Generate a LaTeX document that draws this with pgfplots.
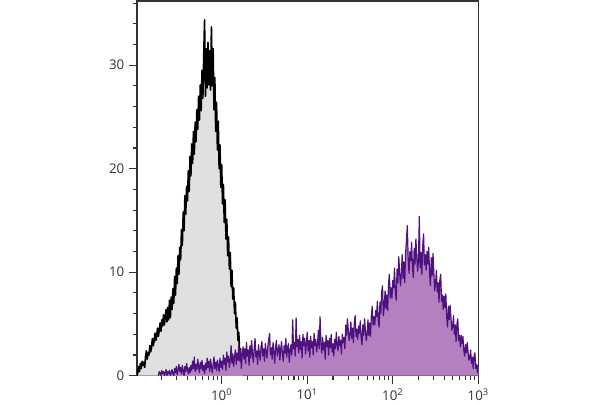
\documentclass[border=0pt]{standalone}
\usepackage{pgfplots}
\usepackage{pgfplotstable}
\pgfplotsset{compat=1.18}
\usepackage{fontspec}
\setmainfont{Open Sans}
\definecolor{ctrlfill}{RGB}{224,224,224}
\definecolor{purpline}{RGB}{78,18,128}
\definecolor{purpfill}{RGB}{181,127,192}
\definecolor{axgray}{RGB}{50,50,50}
\definecolor{labgray}{RGB}{50,50,50}

\pgfplotstableread{
u v
-0.99 0.0
-0.98 0.3
-0.97 0.9
-0.96 0.4
-0.95 1.2
-0.94 0.7
-0.93 1.4
-0.92 1.0
-0.91 1.3
-0.90 0.8
-0.89 1.9
-0.88 2.4
-0.87 1.6
-0.86 2.2
-0.85 2.0
-0.84 2.9
-0.83 2.3
-0.82 2.7
-0.81 3.6
-0.80 2.9
-0.79 3.3
-0.78 4.1
-0.77 3.4
-0.76 3.9
-0.75 4.6
-0.74 3.8
-0.73 4.4
-0.72 5.1
-0.71 4.3
-0.70 5.4
-0.69 4.8
-0.68 5.9
-0.67 4.9
-0.66 5.6
-0.65 6.4
-0.64 5.2
-0.63 6.6
-0.62 5.4
-0.61 7.3
-0.60 5.6
-0.59 7.6
-0.58 6.4
-0.57 8.4
-0.56 7.0
-0.55 9.6
-0.54 7.8
-0.53 10.4
-0.52 8.9
-0.51 11.6
-0.50 9.8
-0.49 12.4
-0.48 11.2
-0.47 14.1
-0.46 12.6
-0.45 15.8
-0.44 14.0
-0.43 17.4
-0.42 15.6
-0.41 18.3
-0.40 16.9
-0.39 19.8
-0.38 17.8
-0.37 21.2
-0.36 19.3
-0.35 22.4
-0.34 20.5
-0.33 23.6
-0.32 21.4
-0.31 24.5
-0.30 22.6
-0.29 25.7
-0.28 23.8
-0.27 27.0
-0.26 24.7
-0.25 28.1
-0.24 25.6
-0.23 29.5
-0.22 26.8
-0.21 31.0
-0.20 34.4
-0.19 27.0
-0.18 31.6
-0.17 27.8
-0.16 32.2
-0.15 28.1
-0.14 31.4
-0.13 27.6
-0.12 33.7
-0.11 28.0
-0.10 31.6
-0.09 25.7
-0.08 28.8
-0.07 23.6
-0.06 26.4
-0.05 21.8
-0.04 24.6
-0.03 20.0
-0.02 22.3
-0.01 18.2
0.00 20.4
0.01 16.6
0.02 18.5
0.03 14.8
0.04 17.0
0.05 13.2
0.06 15.1
0.07 11.6
0.08 13.4
0.09 10.3
0.10 11.9
0.11 8.6
0.12 10.2
0.13 7.4
0.14 8.5
0.15 6.0
0.16 7.1
0.17 4.6
0.18 5.6
0.19 3.4
0.20 4.2
0.21 2.2
0.22 2.6
0.23 1.0
0.24 1.2
0.25 0.2
0.26 0.0
}\ctrldata

\pgfplotstableread{
u v
-0.74 0.0
-0.73 0.4
-0.72 0.3
-0.71 0.0
-0.70 0.5
-0.69 0.2
-0.68 0.4
-0.67 0.0
-0.66 0.3
-0.65 0.6
-0.64 0.0
-0.63 0.4
-0.62 0.2
-0.61 0.5
-0.60 0.0
-0.59 0.3
-0.58 0.6
-0.57 0.2
-0.56 0.0
-0.55 0.7
-0.54 0.3
-0.53 0.9
-0.52 0.1
-0.51 0.6
-0.50 1.1
-0.49 0.4
-0.48 0.8
-0.47 0.2
-0.46 1.0
-0.45 0.5
-0.44 0.0
-0.43 0.9
-0.42 0.4
-0.41 1.2
-0.40 0.6
-0.39 0.2
-0.38 0.8
-0.37 0.3
-0.36 1.0
-0.35 0.5
-0.34 1.4
-0.33 0.7
-0.32 1.8
-0.31 0.4
-0.30 1.1
-0.29 0.6
-0.28 1.6
-0.27 0.9
-0.26 0.3
-0.25 1.3
-0.24 0.7
-0.23 1.5
-0.22 0.5
-0.21 1.0
-0.20 0.2
-0.19 1.2
-0.18 0.6
-0.17 1.7
-0.16 0.8
-0.15 1.4
-0.14 0.4
-0.13 1.6
-0.12 0.9
-0.11 0.3
-0.10 1.1
-0.09 1.8
-0.08 0.7
-0.07 1.3
-0.06 0.5
-0.05 1.5
-0.04 1.0
-0.03 0.4
-0.02 1.7
-0.01 0.8
0.00 1.4
0.01 0.6
0.02 2.0
0.03 1.1
0.04 1.7
0.05 0.5
0.06 2.3
0.07 1.3
0.08 1.9
0.09 0.8
0.10 1.5
0.11 2.9
0.12 1.2
0.13 2.1
0.14 0.9
0.15 1.8
0.16 2.5
0.17 1.1
0.18 2.2
0.19 1.5
0.20 3.0
0.21 1.4
0.22 2.4
0.23 0.7
0.24 2.0
0.25 2.8
0.26 1.6
0.27 2.6
0.28 1.2
0.29 3.2
0.30 1.9
0.31 2.5
0.32 1.0
0.33 2.9
0.34 1.7
0.35 3.4
0.36 2.1
0.37 1.3
0.38 2.7
0.39 3.6
0.40 1.8
0.41 2.4
0.42 1.1
0.43 3.0
0.44 2.2
0.45 1.5
0.46 2.8
0.47 3.3
0.48 1.9
0.49 2.6
0.50 1.4
0.51 3.1
0.52 2.3
0.53 1.7
0.54 2.9
0.55 3.5
0.56 4.1
0.57 2.0
0.58 2.7
0.59 1.6
0.60 3.2
0.61 2.4
0.62 1.2
0.63 2.8
0.64 3.4
0.65 1.9
0.66 2.5
0.67 3.0
0.68 1.5
0.69 2.6
0.70 3.3
0.71 2.1
0.72 1.4
0.73 2.9
0.74 2.2
0.75 3.6
0.76 1.8
0.77 2.7
0.78 3.1
0.79 1.3
0.80 2.4
0.81 3.0
0.82 2.0
0.83 5.4
0.84 2.6
0.85 3.2
0.86 1.9
0.87 5.6
0.88 2.8
0.89 3.5
0.90 2.2
0.91 3.9
0.92 2.5
0.93 3.3
0.94 1.7
0.95 4.0
0.96 2.9
0.97 3.6
0.98 2.1
0.99 3.1
1.00 4.2
1.01 2.4
1.02 3.4
1.03 1.8
1.04 3.8
1.05 2.7
1.06 3.3
1.07 2.0
1.08 4.1
1.09 2.9
1.10 3.5
1.11 2.3
1.12 3.0
1.13 4.4
1.14 2.6
1.15 5.7
1.16 3.1
1.17 2.2
1.18 3.7
1.19 2.5
1.20 3.2
1.21 1.6
1.22 3.9
1.23 2.8
1.24 3.4
1.25 2.0
1.26 3.6
1.27 2.7
1.28 4.0
1.29 2.3
1.30 3.1
1.31 1.9
1.32 3.5
1.33 2.6
1.34 4.2
1.35 3.0
1.36 2.4
1.37 3.8
1.38 2.9
1.39 3.4
1.40 2.1
1.41 4.0
1.42 3.2
1.43 3.7
1.44 2.6
1.45 4.9
1.46 3.9
1.47 5.5
1.48 4.4
1.49 3.4
1.50 4.0
1.51 5.2
1.52 3.6
1.53 4.6
1.54 3.2
1.55 5.1
1.56 5.8
1.57 3.8
1.58 4.5
1.59 3.5
1.60 4.8
1.61 4.1
1.62 5.3
1.63 3.7
1.64 3.0
1.65 4.9
1.66 3.9
1.67 5.5
1.68 4.4
1.69 3.4
1.70 4.0
1.71 5.4
1.72 3.9
1.73 5.1
1.74 3.8
1.75 5.9
1.76 6.7
1.77 4.9
1.78 5.7
1.79 4.9
1.80 6.3
1.81 5.7
1.82 7.2
1.83 5.4
1.84 4.7
1.85 7.1
1.86 6.0
1.87 8.1
1.88 8.7
1.89 5.8
1.90 6.6
1.91 8.2
1.92 6.5
1.93 7.8
1.94 6.3
1.95 8.8
1.96 9.8
1.97 7.5
1.98 8.5
1.99 7.5
2.00 9.2
2.01 8.5
2.02 10.4
2.03 8.2
2.04 7.3
2.05 10.3
2.06 9.0
2.07 11.5
2.08 10.0
2.09 8.7
2.10 9.8
2.11 11.7
2.12 9.4
2.13 11.0
2.14 9.0
2.15 11.9
2.16 13.1
2.17 14.5
2.18 11.3
2.19 9.9
2.20 12.0
2.21 11.1
2.22 12.9
2.23 10.5
2.24 9.5
2.25 12.3
2.26 10.8
2.27 13.2
2.28 11.6
2.29 10.1
2.30 11.0
2.31 15.4
2.32 10.4
2.33 11.9
2.34 9.8
2.35 12.6
2.36 13.7
2.37 10.7
2.38 11.7
2.39 10.2
2.40 12.0
2.41 10.8
2.42 12.4
2.43 9.9
2.44 8.7
2.45 11.4
2.46 9.7
2.47 11.8
2.48 10.0
2.49 8.2
2.50 8.9
2.51 10.2
2.52 8.1
2.53 9.0
2.54 7.1
2.55 9.2
2.56 9.8
2.57 7.2
2.58 7.8
2.59 6.4
2.60 7.7
2.61 6.6
2.62 7.9
2.63 5.7
2.64 4.7
2.65 6.7
2.66 5.4
2.67 6.8
2.68 5.6
2.69 4.4
2.70 4.8
2.71 5.8
2.72 4.0
2.73 4.9
2.74 3.3
2.75 5.0
2.76 5.5
2.77 3.4
2.78 3.9
2.79 2.8
2.80 3.9
2.81 3.1
2.82 3.8
2.83 2.5
2.84 1.9
2.85 3.0
2.86 2.2
2.87 3.2
2.88 2.3
2.89 1.5
2.90 1.7
2.91 2.5
2.92 1.2
2.93 1.8
2.94 0.7
2.95 1.9
2.96 2.2
2.97 0.7
2.98 1.1
2.99 0.3
3.00 1.0
}\purpdata

\begin{document}
\begin{tikzpicture}
\begin{axis}[
  scale only axis,
  width=256pt, height=281pt,
  xmin=-0.99, xmax=3,
  ymin=0, ymax=36.2,
  axis line style={draw=axgray, line width=1pt},
  tick style={draw=axgray, line width=0.8pt},
  tick align=outside,
  tick pos=left,
  major tick length=6pt,
  minor tick length=3pt,
  xtick={0,1,2,3},
  xticklabels={10\textsuperscript{0},10\textsuperscript{1},10\textsuperscript{2},10\textsuperscript{3}},
  minor xtick={-0.699,-0.523,-0.398,-0.301,-0.222,-0.155,-0.097,-0.046,
               0.301,0.477,0.602,0.699,0.778,0.845,0.903,0.954,
               1.301,1.477,1.602,1.699,1.778,1.845,1.903,1.954,
               2.301,2.477,2.602,2.699,2.778,2.845,2.903,2.954},
  ytick={0,10,20,30},
  minor ytick={2,4,6,8,12,14,16,18,22,24,26,28,32,34,36},
  /pgf/number format/assume math mode=true,
  ticklabel style={font=\fontsize{10}{12}\selectfont, text=labgray},
  clip=true,
]
\addplot[draw=none, fill=ctrlfill] table[x=u, y=v] {\ctrldata} \closedcycle;
\addplot[draw=black, line width=1.2pt, line join=round] table[x=u, y=v] {\ctrldata};
\addplot[draw=none, fill=purpfill] table[x=u, y=v] {\purpdata} \closedcycle;
\addplot[draw=purpline, line width=0.9pt, line join=round] table[x=u, y=v] {\purpdata};
\coordinate (O) at (rel axis cs:0,0);
\end{axis}
\path (O) ++(-102.75pt,-18.2pt) rectangle ++(450pt,300pt);
\end{tikzpicture}
\end{document}
